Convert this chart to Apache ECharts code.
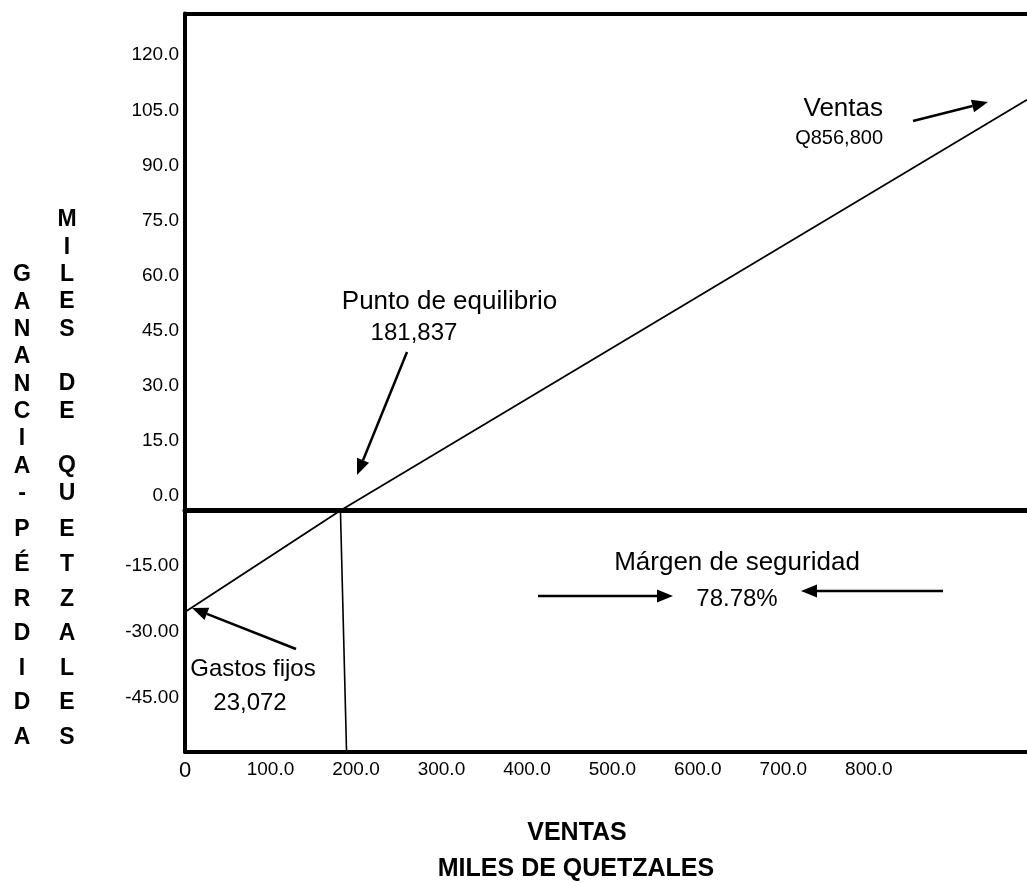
<!DOCTYPE html>
<html>
<head>
<meta charset="utf-8">
<title>Punto de equilibrio</title>
<script src="https://cdn.jsdelivr.net/npm/echarts@6/dist/echarts.min.js"></script>
<style>
  body { margin: 0; background: #fff; }
  #chart { width: 1027px; height: 883px; }
</style>
</head>
<body>
<div id="chart"></div>
<script>
// ticks del eje X (miles de quetzales)
var xTicks = [0, 100, 200, 300, 400, 500, 600, 700, 800];
// ticks del eje Y: ganancia (arriba) y pérdida (abajo)
var yTicksGanancia = [0, 15, 30, 45, 60, 75, 90, 105, 120];
var yTicksPerdida = [-45, -30, -15];

// recta de utilidad, tramo de ganancia y tramo de pérdida
var lineaGanancia = [[181.837, 0], [985, 111.8]];
var lineaPerdida = [[0, -23.072], [181.837, 0]];
// línea vertical del punto de equilibrio
var lineaEquilibrio = [[181.837, 0], [189, -54.9]];

var FONT = '"Liberation Sans", Arial, sans-serif';
var XMAX = 985;

var chart = echarts.init(document.getElementById('chart'));

function txt(text, x, y, size, align, bold) {
    return {
        type: 'text',
        x: x, y: y,
        style: {
            text: text,
            font: (bold ? 'bold ' : '') + size + 'px ' + FONT,
            fill: '#000',
            align: align || 'center', textAlign: align || 'center',
            verticalAlign: 'middle', textVerticalAlign: 'middle'
        }
    };
}

function column(text, x, top, lh) {
    return {
        type: 'text',
        x: x, y: top,
        style: {
            text: text,
            font: 'bold 23px ' + FONT,
            lineHeight: lh,
            fill: '#000',
            align: 'center', textAlign: 'center',
            verticalAlign: 'top', textVerticalAlign: 'top'
        }
    };
}

function arrow(x1, y1, x2, y2) {
    var a = Math.atan2(y2 - y1, x2 - x1);
    var L = 16, W = 6.5;
    var bx = x2 - L * Math.cos(a), by = y2 - L * Math.sin(a);
    var px = -Math.sin(a) * W, py = Math.cos(a) * W;
    return [
        { type: 'line', shape: { x1: x1, y1: y1, x2: bx, y2: by }, style: { stroke: '#000', lineWidth: 2.5 } },
        { type: 'polygon', shape: { points: [[x2, y2], [bx + px, by + py], [bx - px, by - py]] }, style: { fill: '#000' } }
    ];
}

var lineStyle = { color: '#000', width: 1.8 };
var hidden = { show: false };

var option = {
    animation: false,
    backgroundColor: '#fff',
    grid: [
        { left: 185, right: 0, top: 13.5, height: 497, outerBoundsMode: 'none' },
        { left: 185, right: 0, top: 510.5, height: 241.5, outerBoundsMode: 'none' }
    ],
    xAxis: [
        {   // borde superior
            gridIndex: 0, type: 'value', position: 'top', min: 0, max: XMAX,
            axisLine: { show: true, onZero: false, lineStyle: { color: '#000', width: 4 } },
            axisTick: hidden, axisLabel: hidden, splitLine: hidden
        },
        {   // linea de cero
            gridIndex: 0, type: 'value', position: 'bottom', min: 0, max: XMAX,
            axisLine: { show: true, onZero: false, lineStyle: { color: '#000', width: 5 } },
            axisTick: hidden, axisLabel: hidden, splitLine: hidden
        },
        {
            gridIndex: 1, type: 'value', position: 'bottom', min: 0, max: XMAX,
            axisLine: { show: true, onZero: false, lineStyle: { color: '#000', width: 4 } },
            axisTick: hidden, splitLine: hidden,
            axisLabel: {
                customValues: xTicks,
                margin: 8,
                color: '#000',
                fontSize: 19,
                fontFamily: FONT,
                formatter: function (v) { return v === 0 ? '{big|0}' : v.toFixed(1); },
                rich: { big: { fontSize: 22, fontFamily: FONT, color: '#000' } }
            }
        }
    ],
    yAxis: [
        {
            gridIndex: 0, type: 'value', min: 0, max: 135.3,
            axisLine: { show: true, lineStyle: { color: '#000', width: 4 } },
            axisTick: hidden, splitLine: hidden,
            axisLabel: {
                customValues: yTicksGanancia,
                margin: 6, color: '#000', fontSize: 19, fontFamily: FONT,
                verticalAlign: 'bottom', lineHeight: 29,
                formatter: function (v) { return v.toFixed(1); }
            }
        },
        {
            gridIndex: 1, type: 'value', min: -54.9, max: 0,
            axisLine: { show: true, lineStyle: { color: '#000', width: 4 } },
            axisTick: hidden, splitLine: hidden,
            axisLabel: {
                customValues: yTicksPerdida,
                margin: 6, color: '#000', fontSize: 19, fontFamily: FONT,
                verticalAlign: 'bottom', lineHeight: 22,
                formatter: function (v) { return v.toFixed(2); }
            }
        }
    ],
    series: [
        { type: 'line', xAxisIndex: 0, yAxisIndex: 0, data: lineaGanancia, symbol: 'none', lineStyle: lineStyle },
        { type: 'line', xAxisIndex: 2, yAxisIndex: 1, data: lineaPerdida, symbol: 'none', lineStyle: lineStyle },
        { type: 'line', xAxisIndex: 2, yAxisIndex: 1, data: lineaEquilibrio, symbol: 'none', lineStyle: { color: '#000', width: 1.6 } }
    ],
    graphic: [
        txt('Punto de equilibrio', 449.5, 302, 26),
        txt('181,837', 414, 333, 24),
        txt('Ventas', 883, 109, 26, 'right'),
        txt('Q856,800', 883, 138, 20, 'right'),
        txt('Márgen de seguridad', 737, 563, 26),
        txt('78.78%', 737, 599, 24),
        txt('Gastos fijos', 253, 669, 24),
        txt('23,072', 250, 703, 24),
        txt('VENTAS', 577, 833, 25, 'center', true),
        txt('MILES DE QUETZALES', 576, 869, 25, 'center', true),
        column('G\nA\nN\nA\nN\nC\nI\nA\n-', 22, 261.3, 27.35),
        column('P\nÉ\nR\nD\nI\nD\nA', 22, 512.7, 34.6),
        column('M\nI\nL\nE\nS\n\nD\nE\n\nQ\nU', 67, 206.3, 27.35),
        column('E\nT\nZ\nA\nL\nE\nS', 67, 512.7, 34.6)
    ]
        .concat(arrow(407, 352, 357, 475))
        .concat(arrow(913, 121, 988, 102))
        .concat(arrow(538, 596, 673, 596))
        .concat(arrow(943, 591, 801, 591))
        .concat(arrow(296, 649, 192, 608))
};

chart.setOption(option);
</script>
</body>
</html>
